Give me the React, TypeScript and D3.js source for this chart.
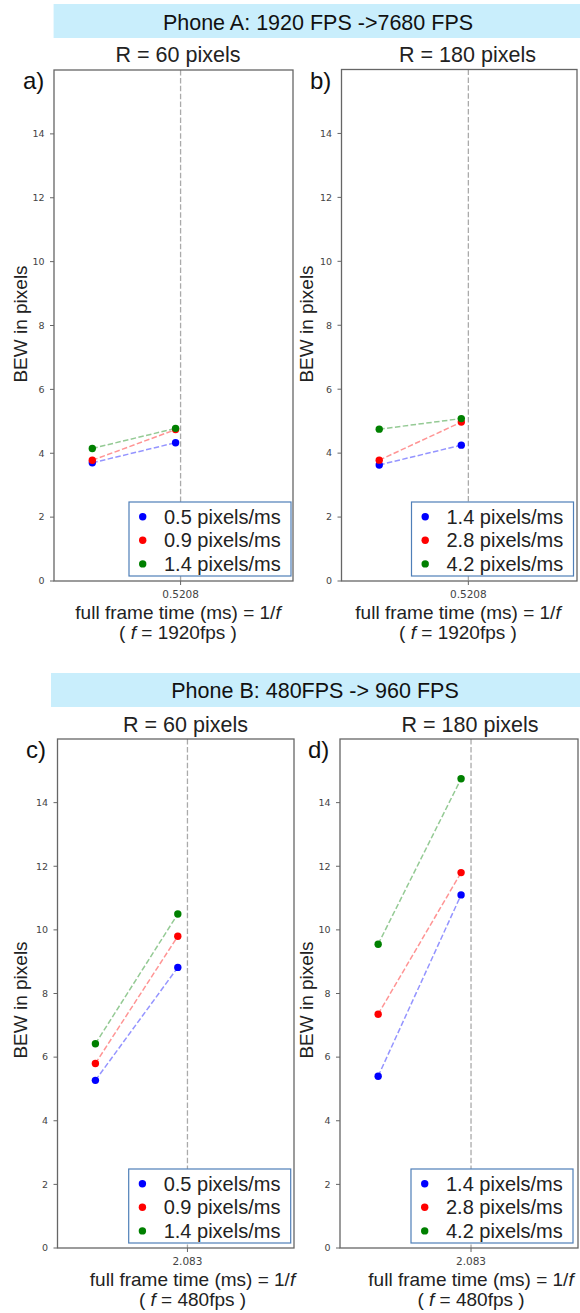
import React from 'react';
import * as d3 from 'd3';

// Text content
const phoneTitles = ['Phone A: 1920 FPS ->7680 FPS', 'Phone B: 480FPS -> 960 FPS'];
const radiusTitles = ['R = 60 pixels', 'R = 180 pixels'];
const panelLetters = ['a)', 'b)', 'c)', 'd)'];
const speedsSmallR = ['0.5 pixels/ms', '0.9 pixels/ms', '1.4 pixels/ms'];
const speedsLargeR = ['1.4 pixels/ms', '2.8 pixels/ms', '4.2 pixels/ms'];
const frameTimeLabels = ['0.5208', '2.083'];
const fpsLabels = ['1920fps', '480fps'];
const yTicks = [0, 2, 4, 6, 8, 10, 12, 14];

// Two capture settings per series (high-speed run, then base run)
const captureSteps = [0, 1];

// BEW values (pixels), one array per speed series
const phoneA60Blue = [3.70, 4.33];
const phoneA60Red = [3.78, 4.74];
const phoneA60Green = [4.15, 4.78];

const phoneA180Blue = [3.63, 4.25];
const phoneA180Red = [3.78, 4.97];
const phoneA180Green = [4.75, 5.08];

const phoneB60Blue = [5.27, 8.82];
const phoneB60Red = [5.80, 9.80];
const phoneB60Green = [6.42, 10.50];

const phoneB180Blue = [5.40, 11.10];
const phoneB180Red = [7.35, 11.80];
const phoneB180Green = [9.55, 14.75];

const seriesColors = ['#0000ff', '#ff0000', '#008000'];

const FONT = "'Liberation Sans', Arial, sans-serif";
const TICK_FONT = "'DejaVu Sans', sans-serif";

type Layout = {
  x0: number; x1: number; y0: number; y1: number;
  vline: number; titleX: number; titleY: number;
  letterX: number; letterY: number; ylabelX: number; ylabelY: number;
  xlabelX: number; legendRight: number;
};

const layouts: Layout[] = [
  { x0: 54, x1: 293, y0: 70, y1: 581, vline: 1.06, titleX: 178, titleY: 62, letterX: 23, letterY: 89, ylabelX: 20, ylabelY: 324, xlabelX: 178, legendRight: 291 },
  { x0: 341.5, x1: 577, y0: 69.5, y1: 581, vline: 1.086, titleX: 467.5, titleY: 62, letterX: 310, letterY: 89, ylabelX: 306, ylabelY: 324, xlabelX: 458, legendRight: 573.5 },
  { x0: 57.5, x1: 294, y0: 739, y1: 1248, vline: 1.117, titleX: 185.5, titleY: 732, letterX: 26, letterY: 758, ylabelX: 20, ylabelY: 1000, xlabelX: 192.5, legendRight: 290.7 },
  { x0: 340, x1: 578, y0: 739, y1: 1248, vline: 1.12, titleX: 470, titleY: 732, letterX: 308, letterY: 758, ylabelX: 306, ylabelY: 1000, xlabelX: 471, legendRight: 573 },
];

const panelSeries = [
  [phoneA60Blue, phoneA60Red, phoneA60Green],
  [phoneA180Blue, phoneA180Red, phoneA180Green],
  [phoneB60Blue, phoneB60Red, phoneB60Green],
  [phoneB180Blue, phoneB180Red, phoneB180Green],
];
const panelLegends = [speedsSmallR, speedsLargeR, speedsSmallR, speedsLargeR];

function Panel({ idx }: { idx: number }) {
  const L = layouts[idx];
  const phone = idx < 2 ? 0 : 1;
  const x = d3.scaleLinear().domain([-0.46, 2.41]).range([L.x0, L.x1]);
  const y = d3.scaleLinear().domain([0, 16]).range([L.y1, L.y0]);
  const line = d3.line<number>().x((_, i) => x(captureSteps[i])).y((v) => y(v));
  const series = panelSeries[idx];
  const legend = panelLegends[idx];
  const lw = 162, lh = 74;
  const lx = L.legendRight - lw;
  const ly = L.y1 - 5 - lh;
  const vx = x(L.vline);

  return (
    <g>
      <text x={L.titleX} y={L.titleY} textAnchor="middle" fontFamily={FONT} fontSize={21.5} fill="#222">
        {radiusTitles[idx % 2]}
      </text>
      <text x={L.letterX} y={L.letterY} fontFamily={FONT} fontSize={24} fill="#111">
        {panelLetters[idx]}
      </text>
      {/* reference frame time */}
      <line x1={vx} x2={vx} y1={L.y0} y2={L.y1} stroke="#aaaaaa" strokeWidth={1.3} strokeDasharray="5.5,2.4" />
      {series.map((vals, s) => (
        <path key={'l' + s} d={line(vals) || ''} fill="none" stroke={seriesColors[s]} strokeOpacity={0.42}
          strokeWidth={1.5} strokeDasharray="5.5,2.4" />
      ))}
      {series.map((vals, s) =>
        vals.map((v, i) => (
          <circle key={'p' + s + '-' + i} cx={x(captureSteps[i])} cy={y(v)} r={3.7} fill={seriesColors[s]} />
        ))
      )}
      <rect x={L.x0} y={L.y0} width={L.x1 - L.x0} height={L.y1 - L.y0} fill="none" stroke="#666" strokeWidth={1.3} />
      {yTicks.map((t) => (
        <g key={'t' + t}>
          <line x1={L.x0 - 4} x2={L.x0} y1={y(t)} y2={y(t)} stroke="#666" strokeWidth={1} />
          <text x={L.x0 - 9.5} y={y(t)} dy="0.35em" textAnchor="end" fontFamily={TICK_FONT} fontSize={9.5} fill="#444">
            {t}
          </text>
        </g>
      ))}
      <line x1={vx} x2={vx} y1={L.y1} y2={L.y1 + 4} stroke="#666" strokeWidth={1} />
      <text x={vx} y={L.y1 + 17} textAnchor="middle" fontFamily={TICK_FONT} fontSize={10.5} fill="#444">
        {frameTimeLabels[phone]}
      </text>
      <text x={L.xlabelX} y={L.y1 + 38} textAnchor="middle" fontFamily={FONT} fontSize={19} fill="#222">
        full frame time (ms) = 1/<tspan fontStyle="italic">f</tspan>
      </text>
      <text x={L.xlabelX} y={L.y1 + 58} textAnchor="middle" fontFamily={FONT} fontSize={19} fill="#222">
        ( <tspan fontStyle="italic">f</tspan> = {fpsLabels[phone]} )
      </text>
      <text transform={`translate(${L.ylabelX},${L.ylabelY}) rotate(-90)`} textAnchor="middle" dy="0.35em"
        fontFamily={FONT} fontSize={19} fill="#222">
        BEW in pixels
      </text>
      {/* legend */}
      <rect x={lx} y={ly} width={lw} height={lh} fill="#ffffff" stroke="#4f7fb8" strokeWidth={1.2} />
      {legend.map((label, s) => (
        <g key={'lg' + s}>
          <circle cx={lx + 13.7} cy={ly + 14.7 + s * 23.6} r={3.7} fill={seriesColors[s]} />
          <text x={lx + 35} y={ly + 14.7 + s * 23.6} dy="0.35em" fontFamily={FONT} fontSize={20} fill="#222">
            {label}
          </text>
        </g>
      ))}
    </g>
  );
}

export default function App() {
  const bands = [
    { x: 53.6, y: 4, h: 34, tx: 318, ty: 29.5 },
    { x: 51, y: 673, h: 34, tx: 315, ty: 698 },
  ];
  return (
    <svg width={580} height={1313} style={{ position: 'absolute', left: 0, top: 0, display: 'block', background: '#fff' }}>
      <rect x={0} y={0} width={580} height={1313} fill="#ffffff" />
      {bands.map((b, i) => (
        <g key={'b' + i}>
          <rect x={b.x} y={b.y} width={580 - b.x} height={b.h} fill="#c9eefc" />
          <text x={b.tx} y={b.ty} textAnchor="middle" fontFamily={FONT} fontSize={21.5} fill="#111">
            {phoneTitles[i]}
          </text>
        </g>
      ))}
      {layouts.map((_, i) => (
        <Panel key={i} idx={i} />
      ))}
    </svg>
  );
}
